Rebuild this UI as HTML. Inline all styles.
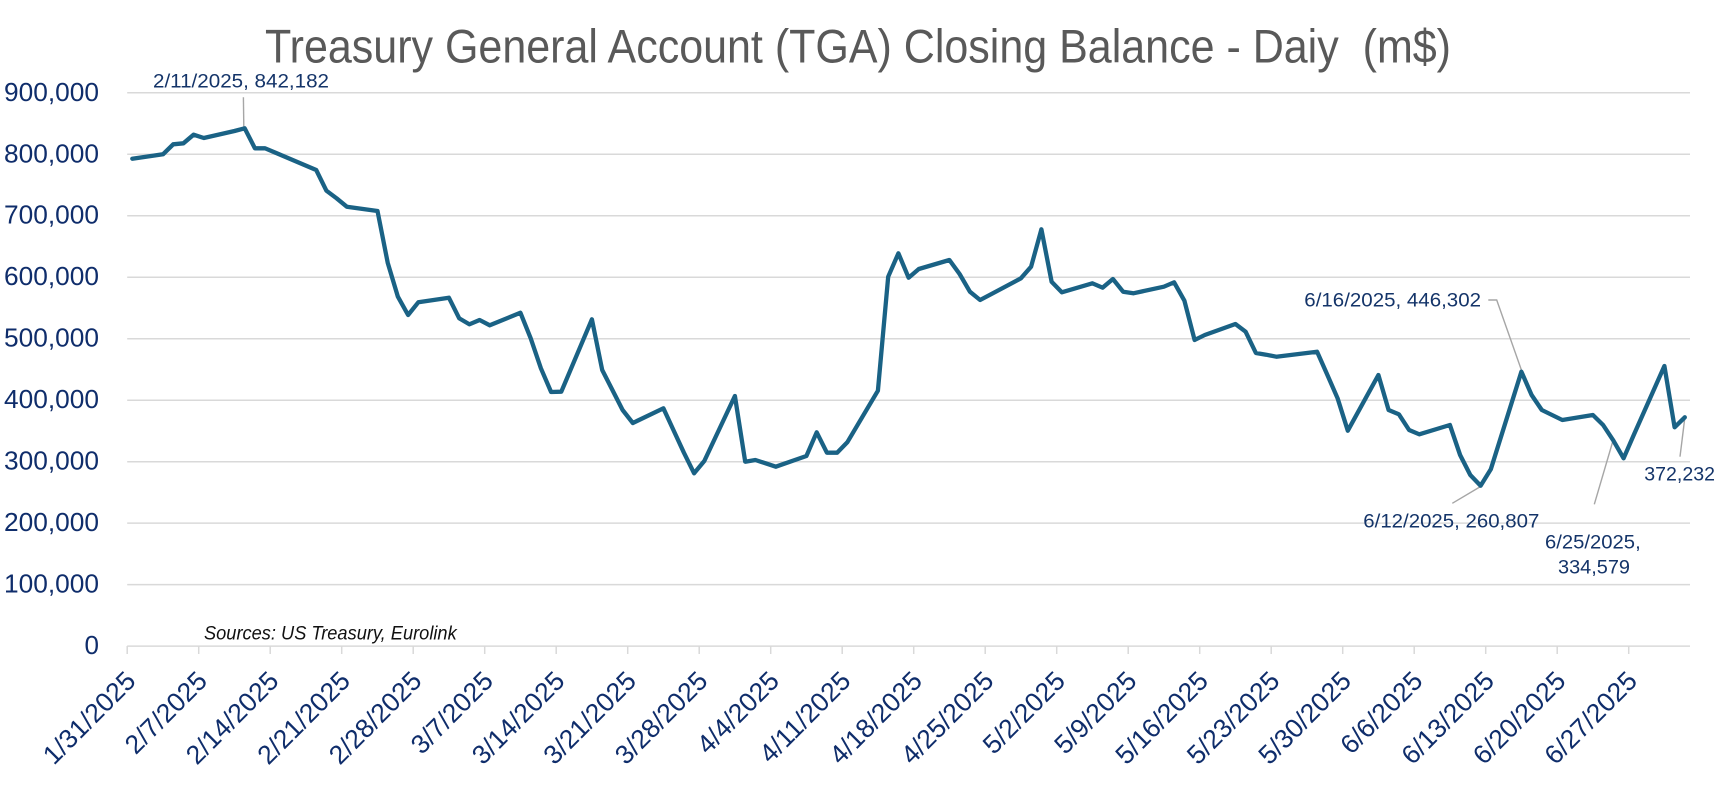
<!DOCTYPE html>
<html><head><meta charset="utf-8"><style>
html,body{margin:0;padding:0;background:#fff;}
svg{display:block;}
text{font-family:"Liberation Sans",sans-serif;}
</style></head><body>
<svg width="1722" height="804" viewBox="0 0 1722 804" xmlns="http://www.w3.org/2000/svg">
<rect width="1722" height="804" fill="#fff"/>
<!-- title -->
<text x="265" y="62.3" font-size="47" fill="#595959" textLength="1186" lengthAdjust="spacingAndGlyphs" style="white-space:pre">Treasury General Account (TGA) Closing Balance - Daiy  (m$)</text>
<!-- gridlines -->
<g stroke="#D9D9D9" stroke-width="1.5">
<line x1="127.2" x2="1690" y1="92.8" y2="92.8"/>
<line x1="127.2" x2="1690" y1="154.3" y2="154.3"/>
<line x1="127.2" x2="1690" y1="215.7" y2="215.7"/>
<line x1="127.2" x2="1690" y1="277.2" y2="277.2"/>
<line x1="127.2" x2="1690" y1="338.7" y2="338.7"/>
<line x1="127.2" x2="1690" y1="400.2" y2="400.2"/>
<line x1="127.2" x2="1690" y1="461.7" y2="461.7"/>
<line x1="127.2" x2="1690" y1="523.1" y2="523.1"/>
<line x1="127.2" x2="1690" y1="584.6" y2="584.6"/>
<line x1="127.2" x2="1690" y1="646.1" y2="646.1"/>
</g>
<!-- ticks -->
<g stroke="#D9D9D9" stroke-width="1.5">
<line x1="127.2" x2="127.2" y1="646" y2="654"/><line x1="198.7" x2="198.7" y1="646" y2="654"/><line x1="270.2" x2="270.2" y1="646" y2="654"/><line x1="341.7" x2="341.7" y1="646" y2="654"/><line x1="413.2" x2="413.2" y1="646" y2="654"/><line x1="484.7" x2="484.7" y1="646" y2="654"/><line x1="556.2" x2="556.2" y1="646" y2="654"/><line x1="627.7" x2="627.7" y1="646" y2="654"/><line x1="699.2" x2="699.2" y1="646" y2="654"/><line x1="770.7" x2="770.7" y1="646" y2="654"/><line x1="842.2" x2="842.2" y1="646" y2="654"/><line x1="913.7" x2="913.7" y1="646" y2="654"/><line x1="985.2" x2="985.2" y1="646" y2="654"/><line x1="1056.7" x2="1056.7" y1="646" y2="654"/><line x1="1128.2" x2="1128.2" y1="646" y2="654"/><line x1="1199.7" x2="1199.7" y1="646" y2="654"/><line x1="1271.2" x2="1271.2" y1="646" y2="654"/><line x1="1342.7" x2="1342.7" y1="646" y2="654"/><line x1="1414.2" x2="1414.2" y1="646" y2="654"/><line x1="1485.7" x2="1485.7" y1="646" y2="654"/><line x1="1557.2" x2="1557.2" y1="646" y2="654"/><line x1="1628.7" x2="1628.7" y1="646" y2="654"/>
</g>
<!-- y labels -->
<g font-size="26" fill="#0F2D6B" text-anchor="end">
<text x="99" y="100.8" textLength="95" lengthAdjust="spacingAndGlyphs">900,000</text>
<text x="99" y="162.3" textLength="95" lengthAdjust="spacingAndGlyphs">800,000</text>
<text x="99" y="223.7" textLength="95" lengthAdjust="spacingAndGlyphs">700,000</text>
<text x="99" y="285.2" textLength="95" lengthAdjust="spacingAndGlyphs">600,000</text>
<text x="99" y="346.7" textLength="95" lengthAdjust="spacingAndGlyphs">500,000</text>
<text x="99" y="408.2" textLength="95" lengthAdjust="spacingAndGlyphs">400,000</text>
<text x="99" y="469.7" textLength="95" lengthAdjust="spacingAndGlyphs">300,000</text>
<text x="99" y="531.1" textLength="95" lengthAdjust="spacingAndGlyphs">200,000</text>
<text x="99" y="592.6" textLength="95" lengthAdjust="spacingAndGlyphs">100,000</text>
<text x="99" y="654.1">0</text>
</g>
<!-- x labels -->
<g font-size="26.5" fill="#0F2D6B" text-anchor="end">
<text transform="translate(137.2,682.5) rotate(-45)">1/31/2025</text>
<text transform="translate(208.7,682.5) rotate(-45)">2/7/2025</text>
<text transform="translate(280.2,682.5) rotate(-45)">2/14/2025</text>
<text transform="translate(351.7,682.5) rotate(-45)">2/21/2025</text>
<text transform="translate(423.2,682.5) rotate(-45)">2/28/2025</text>
<text transform="translate(494.7,682.5) rotate(-45)">3/7/2025</text>
<text transform="translate(566.2,682.5) rotate(-45)">3/14/2025</text>
<text transform="translate(637.7,682.5) rotate(-45)">3/21/2025</text>
<text transform="translate(709.2,682.5) rotate(-45)">3/28/2025</text>
<text transform="translate(780.7,682.5) rotate(-45)">4/4/2025</text>
<text transform="translate(852.2,682.5) rotate(-45)">4/11/2025</text>
<text transform="translate(923.7,682.5) rotate(-45)">4/18/2025</text>
<text transform="translate(995.2,682.5) rotate(-45)">4/25/2025</text>
<text transform="translate(1066.7,682.5) rotate(-45)">5/2/2025</text>
<text transform="translate(1138.2,682.5) rotate(-45)">5/9/2025</text>
<text transform="translate(1209.7,682.5) rotate(-45)">5/16/2025</text>
<text transform="translate(1281.2,682.5) rotate(-45)">5/23/2025</text>
<text transform="translate(1352.7,682.5) rotate(-45)">5/30/2025</text>
<text transform="translate(1424.2,682.5) rotate(-45)">6/6/2025</text>
<text transform="translate(1495.7,682.5) rotate(-45)">6/13/2025</text>
<text transform="translate(1567.2,682.5) rotate(-45)">6/20/2025</text>
<text transform="translate(1638.7,682.5) rotate(-45)">6/27/2025</text>
</g>
<!-- sources -->
<text x="204" y="639.3" font-size="19" font-style="italic" fill="#111" textLength="252.7" lengthAdjust="spacingAndGlyphs">Sources: US Treasury, Eurolink</text>
<!-- leader lines -->
<g stroke="#A6A6A6" stroke-width="1.4" fill="none">
<polyline points="243.4,97.3 243.8,126.5"/>
<polyline points="1488.3,300 1496.7,300 1521.4,370"/>
<polyline points="1452.3,503.3 1480.6,486.5"/>
<polyline points="1594.3,504.3 1612.9,441"/>
<polyline points="1680,456.7 1684.8,418"/>
</g>
<!-- series -->
<polyline fill="none" stroke="#1A6285" stroke-width="4.3" stroke-linejoin="round" stroke-linecap="round" points="132.3,158.7 163,154.3 173.2,144.3 183.4,143.3 193.6,134.7 203.8,138 234.5,131 244.7,128.3 254.9,148.3 265.1,148.3 275.3,152.6 316.2,170 326.4,190.7 336.6,198.3 346.8,206.7 377.5,211 387.7,262.7 397.9,296.7 408.1,315 418.3,302.3 448.9,297.7 459.2,318.3 469.4,324.3 479.6,320 489.8,325.3 520.4,312.7 530.7,338.3 540.9,368.3 551.1,392 561.3,391.7 591.9,319.3 602.2,370 612.4,390 622.6,410 632.8,423 663.4,408.3 673.7,430.6 683.9,452.7 694.1,473.3 704.3,461 734.9,396 745.2,461.7 755.4,460 765.6,463.3 775.8,466.7 806.4,456 816.7,432.3 826.9,452.7 837.1,452.7 847.3,442.3 877.9,390.7 888.2,276.7 898.4,253.3 908.6,277.7 918.8,269 949.4,260 959.6,274 969.9,291.7 980.1,300 990.3,294.6 1020.9,278.3 1031.1,266.7 1041.4,229.3 1051.6,281.7 1061.8,292.3 1092.4,283.3 1102.6,287.7 1112.9,279 1123.1,291.7 1133.3,293.3 1163.9,286.7 1174.1,282.3 1184.4,300.7 1194.6,340 1204.8,335 1235.4,324 1245.6,331.7 1255.9,353 1266.1,354.7 1276.3,356.7 1317.1,351.7 1327.4,375 1337.6,398.3 1347.8,430.7 1378.4,375 1388.6,410 1398.9,414.3 1409.1,430 1419.3,434.3 1449.9,425 1460.1,455 1470.3,475 1480.6,485.7 1490.8,469.3 1521.4,371.7 1531.6,395 1541.8,410 1562.3,420 1592.9,415 1603.1,425 1613.3,440.4 1623.6,458.3 1633.8,434.9 1664.4,366 1674.6,427.3 1684.8,417.3"/>
<!-- data labels -->
<g font-size="19" fill="#143469" style="white-space:pre">
<text x="153" y="87.3" textLength="176" lengthAdjust="spacingAndGlyphs">2/11/2025,  842,182</text>
<text x="1304.3" y="306.7" textLength="176.7" lengthAdjust="spacingAndGlyphs">6/16/2025,  446,302</text>
<text x="1363.3" y="527.3" textLength="176" lengthAdjust="spacingAndGlyphs">6/12/2025,  260,807</text>
<text x="1545" y="548.3" textLength="95.7" lengthAdjust="spacingAndGlyphs">6/25/2025,</text>
<text x="1558" y="573.3" textLength="72" lengthAdjust="spacingAndGlyphs">334,579</text>
<text x="1644.3" y="480.7" textLength="70.7" lengthAdjust="spacingAndGlyphs">372,232</text>
</g>
</svg>
</body></html>
